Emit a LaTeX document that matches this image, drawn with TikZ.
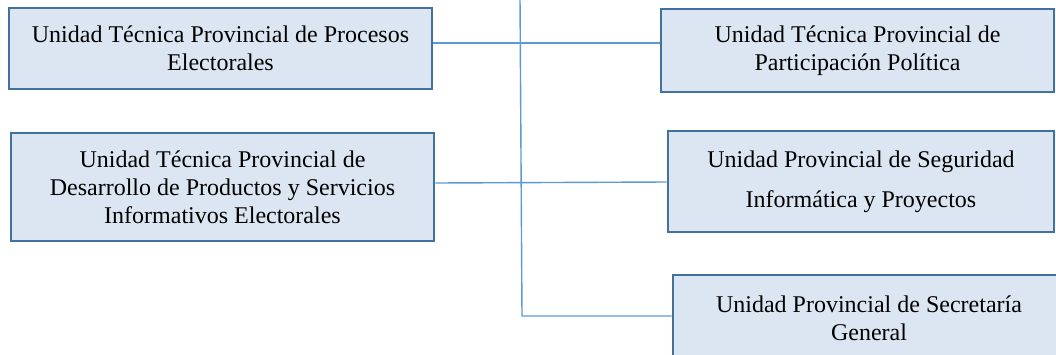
\documentclass[tikz,border=0pt]{standalone}
\usepackage{fontspec}
\setmainfont{Liberation Serif}
\newfontfamily\boxfont{Liberation Serif}
\definecolor{boxfill}{HTML}{DCE6F2}
\definecolor{boxdraw}{HTML}{41719C}
\definecolor{linkcol}{HTML}{5B9BD5}
\tikzset{
  unitbox/.style={draw=boxdraw, fill=boxfill, line width=2.6pt, rectangle,
    align=center, inner sep=0pt, font=\boxfont\fontsize{24}{28}\selectfont},
  link/.style={draw=linkcol, line width=1.4pt}
}
\begin{document}
\begin{tikzpicture}[x=1pt,y=-1pt]
\useasboundingbox (0,0) rectangle (1056,354);
\node[unitbox, minimum width=423pt, minimum height=81pt] (b1) at (220.5,48.5)
  {Unidad Técnica Provincial de Procesos\\Electorales};
\node[unitbox, minimum width=393pt, minimum height=83pt] (b2) at (857.5,50.5)
  {Unidad Técnica Provincial de\\Participación Política};
\node[unitbox, minimum width=423pt, minimum height=108pt] (b3) at (222.5,187)
  {Unidad Técnica Provincial de\\Desarrollo de Productos y Servicios\\Informativos Electorales};
\node[unitbox, minimum width=386pt, minimum height=101pt, font=\boxfont\fontsize{24}{40}\selectfont] (b4) at (861,181.5)
  {Unidad Provincial de Seguridad\\Informática y Proyectos};
\node[unitbox, minimum width=392pt, minimum height=86pt] (b5) at (869,318)
  {Unidad Provincial de Secretaría\\General};
\coordinate (vtop) at (520,-2);
\coordinate (vbot) at (522,316);
\draw[link] (vtop) -- (vbot) -- (b5.west |- vbot);
\draw[link] (b1.east |- 0,43) -- (b2.west |- 0,43);
\draw[link] (b3.east |- 0,183) -- (b4.west |- 0,182);
\end{tikzpicture}
\end{document}
